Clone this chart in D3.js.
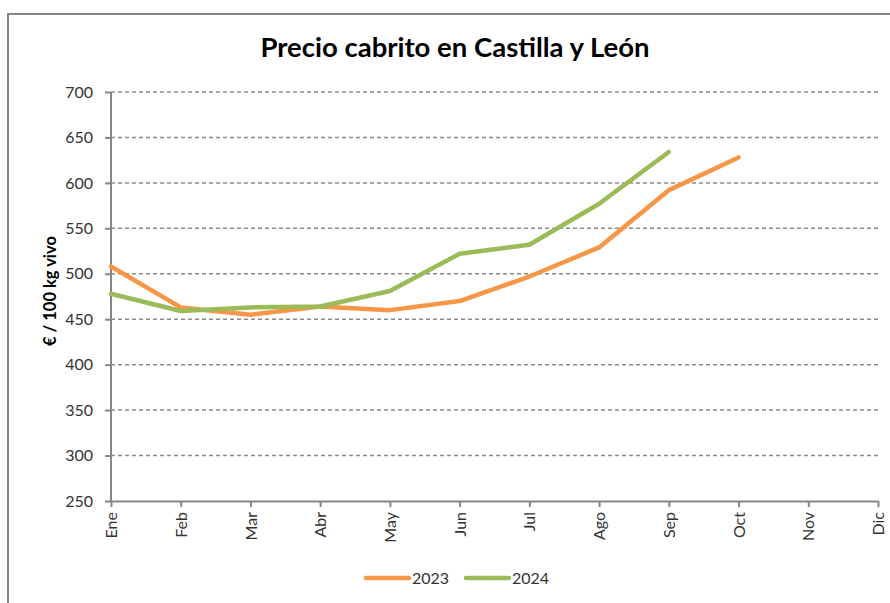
<!DOCTYPE html>
<html lang="es">
<head>
<meta charset="utf-8">
<title>Precio cabrito en Castilla y León</title>
<style>
body { margin: 0; background: #fff; }
text { font-family: Lato, "Open Sans", sans-serif; fill: #333; }
.grid line { stroke: #8a8a8a; stroke-width: 1.5; stroke-dasharray: 4,3; }
.axis path, .axis line { stroke: #868686; stroke-width: 2; }
.axis text { font-size: 16px; fill: #333; }
</style>
</head>
<body>
<svg width="890" height="603"></svg>
<script src="https://d3js.org/d3.v7.min.js"></script>
<script>

var meses = ["Ene", "Feb", "Mar", "Abr", "May", "Jun", "Jul", "Ago", "Sep", "Oct", "Nov", "Dic"];
var precios2023 = [508, 463, 455, 464, 460, 470, 497, 529, 592, 628];
var precios2024 = [478, 459, 463, 464, 481, 522, 532, 577, 634];
var yTicks = [250, 300, 350, 400, 450, 500, 550, 600, 650, 700];

var series = [
  {name: "2023", values: precios2023, color: "#F79646"},
  {name: "2024", values: precios2024, color: "#9BBB59"}
];

var svg = d3.select("svg");

// marco exterior
svg.append("rect")
    .attr("x", 8).attr("y", 14)
    .attr("width", 900).attr("height", 620)
    .attr("fill", "none")
    .attr("stroke", "#868686")
    .attr("stroke-width", 2);

var x = d3.scalePoint().domain(meses).range([111, 878]),
    y = d3.scaleLinear().domain([250, 700]).range([501, 92]);

svg.append("text")
    .attr("x", 455).attr("y", 57)
    .attr("text-anchor", "middle")
    .style("font-size", "27.5px")
    .style("font-weight", "bold")
    .style("fill", "#000")
    .text("Precio cabrito en Castilla y León");

// lineas de referencia
svg.append("g")
    .attr("class", "grid")
  .selectAll("line")
  .data(yTicks.slice(1))
  .enter().append("line")
    .attr("x1", 111).attr("x2", 878)
    .attr("y1", function(d) { return y(d); })
    .attr("y2", function(d) { return y(d); });

svg.append("g")
    .attr("class", "axis")
    .attr("transform", "translate(111,0)")
    .call(d3.axisLeft(y).tickValues(yTicks).tickSize(6).tickSizeOuter(0).tickPadding(12))
    .call(function(g) { g.select(".domain").attr("d", "M0," + y(700) + "V" + y(250)); });

var xAxis = svg.append("g")
    .attr("class", "axis")
    .attr("transform", "translate(0,501)")
    .call(d3.axisBottom(x).tickSize(6).tickSizeOuter(0));

xAxis.selectAll("text")
    .attr("transform", "rotate(-90)")
    .attr("text-anchor", "end")
    .attr("x", -11)
    .attr("y", 0)
    .attr("dy", "0.35em");

svg.append("text")
    .attr("transform", "translate(56,291) rotate(-90)")
    .attr("text-anchor", "middle")
    .style("font-size", "16.5px")
    .style("font-weight", "bold")
    .style("fill", "#000")
    .text("€ / 100 kg vivo");

var line = d3.line()
    .x(function(d, i) { return x(meses[i]); })
    .y(function(d) { return y(d); });

svg.selectAll(".serie")
  .data(series)
  .enter().append("path")
    .attr("class", "serie")
    .attr("fill", "none")
    .attr("stroke", function(d) { return d.color; })
    .attr("stroke-width", 4.5)
    .attr("stroke-linejoin", "round")
    .attr("stroke-linecap", "round")
    .attr("d", function(d) { return line(d.values); });

// leyenda
var leg = svg.append("g").selectAll("g")
  .data(series)
  .enter().append("g")
    .attr("transform", function(d, i) { return "translate(" + (366 + i * 100) + ",578)"; });

leg.append("line")
    .attr("x1", 0).attr("x2", 43)
    .attr("stroke", function(d) { return d.color; })
    .attr("stroke-width", 4.5)
    .attr("stroke-linecap", "round");

leg.append("text")
    .attr("x", 46)
    .attr("dy", "0.35em")
    .style("font-size", "16px")
    .text(function(d) { return d.name; });

</script>
</body>
</html>
